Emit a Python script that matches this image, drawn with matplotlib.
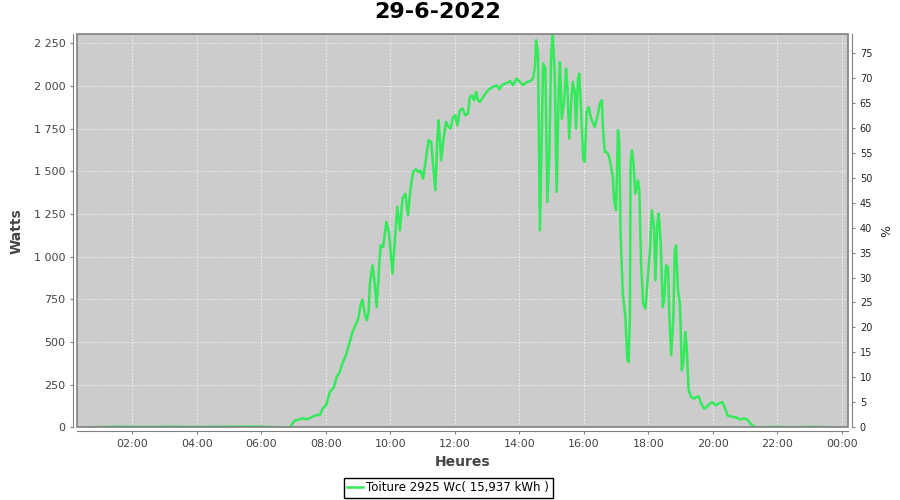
# Daily production curve of the roof PV array, 29-6-2022
# Left axis in Watts, right axis in % of the 2925 Wc peak power

import matplotlib as mpl
import matplotlib.pyplot as plt
from matplotlib.ticker import FuncFormatter, MultipleLocator
from matplotlib.patches import Rectangle

mpl.rcParams.update({
    "font.family": ["DejaVu Sans"],
})

# ----------------------------
# Data (hour of day, Watts)
# ----------------------------
title = "29-6-2022"
series_label = "Toiture 2925 Wc( 15,937 kWh )"
peak_wc = 2925

hours = [0.69, 1.5, 2.5, 3.2, 4.0, 5.0, 5.8, 6.2, 6.58, 6.89, 7.04, 7.20, 7.29, 7.41,
         7.56, 7.72, 7.82, 7.91, 8.01, 8.13, 8.25, 8.34, 8.44, 8.52, 8.63, 8.73, 8.83,
         8.94, 9.01, 9.08, 9.14, 9.21, 9.27, 9.33, 9.37, 9.45, 9.52, 9.58, 9.64, 9.70,
         9.78, 9.88, 9.96, 10.07, 10.15, 10.22, 10.30, 10.38, 10.47, 10.55, 10.63,
         10.71, 10.80, 10.87, 10.94, 11.02, 11.11, 11.19, 11.27, 11.33, 11.40, 11.46,
         11.50, 11.58, 11.64, 11.73, 11.81, 11.87, 11.95, 12.02, 12.08, 12.16, 12.24,
         12.33, 12.41, 12.47, 12.53, 12.60, 12.66, 12.72, 12.78, 12.88, 12.99, 13.09,
         13.19, 13.30, 13.38, 13.46, 13.55, 13.63, 13.71, 13.81, 13.92, 14.02, 14.12,
         14.23, 14.33, 14.43, 14.49, 14.52, 14.58, 14.64, 14.70, 14.74, 14.81, 14.87,
         14.93, 14.99, 15.04, 15.10, 15.16, 15.22, 15.26, 15.32, 15.39, 15.45, 15.49,
         15.55, 15.61, 15.66, 15.72, 15.76, 15.82, 15.86, 15.92, 15.98, 16.03, 16.09,
         16.15, 16.23, 16.34, 16.42, 16.50, 16.56, 16.59, 16.65, 16.71, 16.77, 16.81,
         16.90, 16.94, 17.00, 17.06, 17.10, 17.14, 17.21, 17.29, 17.35, 17.39, 17.43,
         17.45, 17.49, 17.54, 17.60, 17.68, 17.72, 17.78, 17.84, 17.91, 17.97, 18.05,
         18.11, 18.18, 18.22, 18.28, 18.32, 18.38, 18.45, 18.49, 18.55, 18.61, 18.65,
         18.71, 18.78, 18.82, 18.86, 18.92, 18.98, 19.04, 19.08, 19.15, 19.19, 19.25,
         19.33, 19.42, 19.50, 19.56, 19.64, 19.73, 19.81, 19.91, 19.99, 20.08, 20.18,
         20.29, 20.37, 20.45, 20.64, 20.74, 20.84, 20.95, 21.05, 21.15, 21.26, 21.36,
         22.0, 22.5, 23.0, 23.73]

watts = [0, 3, 2, 3, 2, 3, 4, 2, 0, 0, 40, 47, 53, 47,
         59, 72, 72, 111, 129, 207, 234, 295, 324, 377, 422, 490, 558,
         607, 637, 715, 748, 666, 627, 676, 842, 949, 842, 705, 881, 1066,
         1056, 1203, 1144, 900, 1105, 1291, 1154, 1340, 1369, 1242, 1398,
         1496, 1512, 1496, 1504, 1457, 1574, 1682, 1672, 1535, 1389, 1691,
         1799, 1564, 1672, 1789, 1759, 1750, 1818, 1828, 1769, 1857, 1867,
         1828, 1838, 1935, 1945, 1916, 1965, 1916, 1906, 1935, 1965, 1984,
         1994, 2004, 1980, 2004, 2013, 2019, 2028, 2004, 2043, 2023, 2004,
         2023, 2027, 2043, 2121, 2267, 2199, 1154, 1730, 2131, 2101, 1320,
         1574, 2199, 2297, 2062, 1379, 1965, 2140, 1808, 1906, 2101, 2004,
         1691, 1906, 2023, 1965, 1750, 2043, 2072, 1847, 1574, 1555, 1847,
         1877, 1808, 1759, 1818, 1896, 1916, 1769, 1613, 1613, 1594, 1564,
         1467, 1330, 1271, 1740, 1662, 1135, 783, 646, 393, 383, 646,
         1545, 1623, 1545, 1369, 1447, 1389, 939, 725, 695, 842, 1037,
         1271, 1174, 861, 1193, 1252, 1096, 705, 744, 949, 939, 666,
         422, 666, 1037, 1066, 803, 725, 334, 373, 558, 470, 217,
         178, 168, 178, 182, 139, 109, 119, 139, 148, 129, 139,
         148, 119, 70, 60, 57, 45, 51, 49, 25, 6, 0,
         2, 0, 2, 0]

x_ticks = [2, 4, 6, 8, 10, 12, 14, 16, 18, 20, 22, 24]

# ----------------------------
# Figure
# ----------------------------
fig = plt.figure(figsize=(9, 5), dpi=100)
ax = fig.add_axes([0.0859, 0.1454, 0.8563, 0.7866])
ax.set_facecolor("#cccccc")

ax.plot(hours, watts, color="#33ea5a", lw=1.8, label=series_label, zorder=3)

ax.set_xlim(0.30, 24.19)
ax.set_ylim(0, 2304)
ax.xaxis.set_major_locator(plt.FixedLocator(x_ticks))
ax.xaxis.set_major_formatter(FuncFormatter(lambda h, p: f"{int(round(h)) % 24:02d}:00"))
ax.yaxis.set_major_locator(MultipleLocator(250))
ax.yaxis.set_major_formatter(FuncFormatter(lambda v, p: f"{int(v):,}".replace(",", " ")))

ax.grid(True, color="#f4f4f4", ls=(0, (2, 2)), lw=0.6, zorder=1)

gray = "#808080"
for side in ["top", "right"]:
    ax.spines[side].set_visible(False)
for side in ["left", "bottom"]:
    ax.spines[side].set_position(("outward", 3))
    ax.spines[side].set_color(gray)
ax.add_patch(Rectangle((0, 0), 1, 1, transform=ax.transAxes, fill=False,
                       edgecolor=gray, lw=1.2, clip_on=False, zorder=4))
ax.tick_params(axis="both", colors=gray, length=2, labelsize=8, labelcolor="#444444")
ax.set_xlabel("Heures", fontsize=10, fontweight="bold", color="#444444", labelpad=4)
ax.set_ylabel("Watts", fontsize=10, fontweight="bold", color="#444444", labelpad=7)

# Right axis: percent of peak power
ax2 = ax.twinx()
ax2.set_ylim(0, 2304 / peak_wc * 100)
ax2.yaxis.set_major_locator(MultipleLocator(5))
for side in ["top", "left", "bottom"]:
    ax2.spines[side].set_visible(False)
ax2.spines["right"].set_position(("outward", 3))
ax2.spines["right"].set_color(gray)
ax2.tick_params(axis="y", colors=gray, length=2, labelsize=7, labelcolor="#222222")
ax2.set_ylabel("%", fontsize=9, color="#222222", labelpad=6)

fig.text(0.486, 0.975, title, fontsize=16, fontweight="bold", ha="center", va="center")

leg = fig.legend(loc="lower center", bbox_to_anchor=(0.498, 0.0), fontsize=8.5,
                 frameon=True, fancybox=False, edgecolor="black", framealpha=1,
                 handlelength=1.3, handletextpad=0.3, borderpad=0.3,
                 borderaxespad=0.2)
leg.get_frame().set_linewidth(1.0)

plt.savefig("out.png", dpi=100)
